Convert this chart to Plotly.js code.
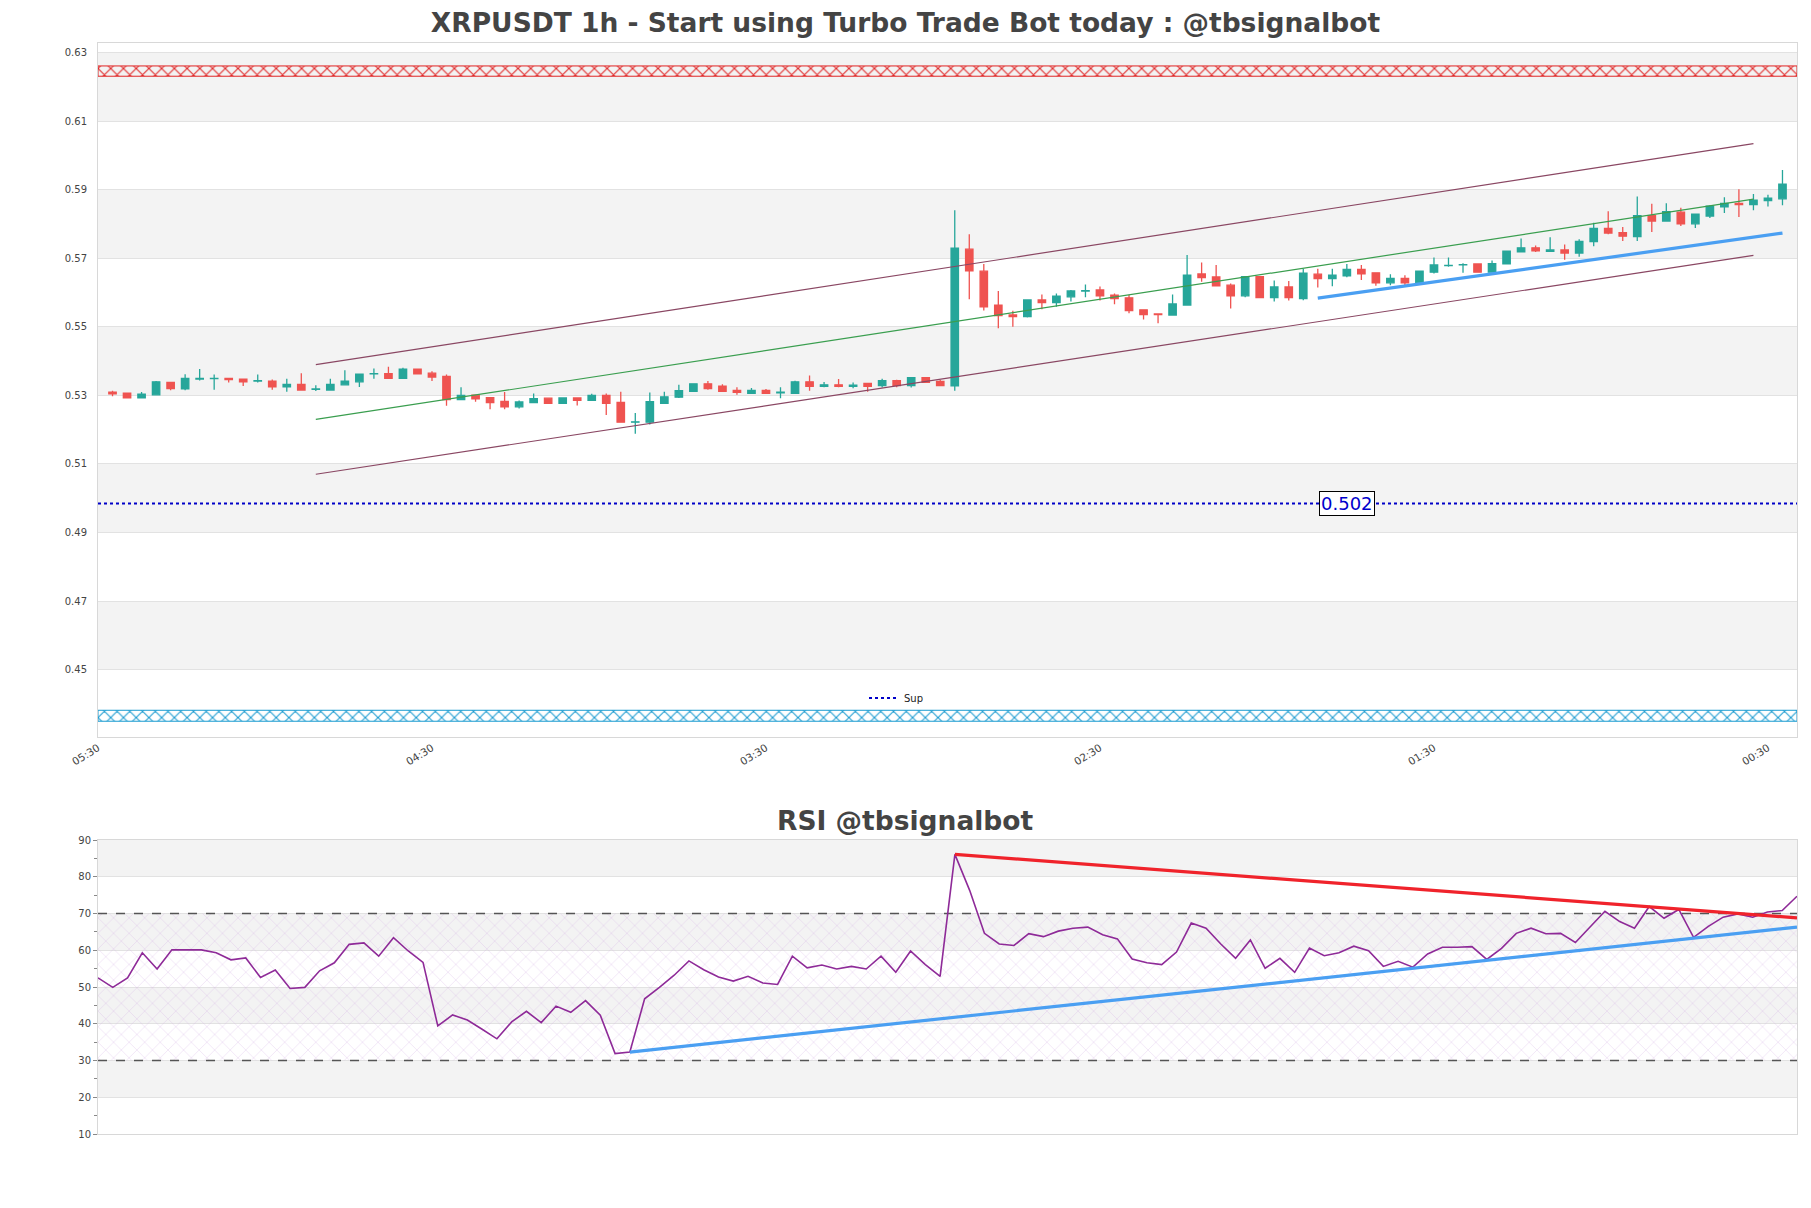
<!DOCTYPE html>
<html>
<head>
<meta charset="utf-8">
<script src="https://cdn.plot.ly/plotly-3.0.1.min.js"></script>
<style>
html,body{margin:0;padding:0;background:#ffffff;}
#chart{width:1811px;height:1208px;}
</style>
</head>
<body>
<div id="chart"></div>
<script>
// ---------------- DATA ----------------
const opens = [
0.5310,0.5307,0.5293,0.5302,0.5338,0.5319,0.5348,0.5349,0.5350,0.5348,
0.5342,0.5342,0.5325,0.5332,0.5318,0.5316,0.5331,0.5340,0.5363,0.5364,
0.5350,0.5377,0.5365,0.5356,0.5288,0.5301,0.5294,0.5283,0.5267,0.5279,
0.5292,0.5277,0.5293,0.5286,0.5300,0.5280,0.5222,0.5222,0.5277,0.5295,
0.5312,0.5334,0.5327,0.5315,0.5306,0.5315,0.5308,0.5306,0.5340,0.5327,
0.5331,0.5327,0.5335,0.5329,0.5343,0.5329,0.5352,0.5341,0.5328,0.5727,
0.5663,0.5564,0.5535,0.5530,0.5579,0.5571,0.5588,0.5605,0.5608,0.5593,
0.5585,0.5550,0.5538,0.5535,0.5564,0.5655,0.5646,0.5622,0.5591,0.5647,
0.5586,0.5617,0.5583,0.5654,0.5641,0.5649,0.5668,0.5658,0.5629,0.5642,
0.5629,0.5660,0.5679,0.5681,0.5684,0.5660,0.5684,0.5719,0.5731,0.5721,
0.5725,0.5716,0.5749,0.5788,0.5775,0.5764,0.5825,0.5809,0.5835,0.5801,
0.5824,0.5851,0.5861,0.5857,0.5869,0.5874];
const highs = [
0.5314,0.5308,0.5310,0.5342,0.5339,0.5362,0.5377,0.5361,0.5352,0.5349,
0.5361,0.5347,0.5349,0.5365,0.5330,0.5349,0.5374,0.5363,0.5379,0.5384,
0.5381,0.5379,0.5371,0.5361,0.5324,0.5302,0.5295,0.5310,0.5285,0.5306,
0.5293,0.5294,0.5294,0.5305,0.5306,0.5311,0.5249,0.5309,0.5311,0.5331,
0.5336,0.5342,0.5333,0.5324,0.5322,0.5319,0.5324,0.5343,0.5358,0.5339,
0.5348,0.5338,0.5336,0.5349,0.5346,0.5354,0.5353,0.5345,0.5841,0.5771,
0.5684,0.5605,0.5547,0.5581,0.5595,0.5598,0.5608,0.5624,0.5618,0.5598,
0.5593,0.5551,0.5539,0.5595,0.5710,0.5688,0.5681,0.5627,0.5647,0.5648,
0.5636,0.5634,0.5670,0.5670,0.5670,0.5684,0.5681,0.5659,0.5654,0.5651,
0.5665,0.5703,0.5703,0.5686,0.5685,0.5694,0.5723,0.5758,0.5738,0.5762,
0.5741,0.5756,0.5804,0.5838,0.5792,0.5881,0.5860,0.5861,0.5848,0.5831,
0.5855,0.5879,0.5902,0.5888,0.5886,0.5958];
const lows = [
0.5298,0.5292,0.5292,0.5301,0.5315,0.5315,0.5344,0.5317,0.5338,0.5328,
0.5338,0.5317,0.5311,0.5315,0.5313,0.5314,0.5330,0.5325,0.5349,0.5348,
0.5349,0.5362,0.5342,0.5270,0.5287,0.5282,0.5260,0.5260,0.5262,0.5278,
0.5275,0.5276,0.5271,0.5285,0.5243,0.5222,0.5188,0.5215,0.5276,0.5293,
0.5310,0.5317,0.5311,0.5302,0.5304,0.5304,0.5292,0.5305,0.5314,0.5324,
0.5324,0.5321,0.5311,0.5323,0.5324,0.5323,0.5337,0.5328,0.5314,0.5581,
0.5548,0.5496,0.5501,0.5528,0.5552,0.5559,0.5574,0.5587,0.5577,0.5566,
0.5540,0.5522,0.5511,0.5534,0.5563,0.5632,0.5618,0.5554,0.5587,0.5586,
0.5574,0.5577,0.5578,0.5615,0.5619,0.5645,0.5637,0.5620,0.5622,0.5622,
0.5628,0.5656,0.5676,0.5658,0.5660,0.5659,0.5683,0.5718,0.5719,0.5720,
0.5696,0.5705,0.5736,0.5771,0.5751,0.5751,0.5777,0.5808,0.5795,0.5789,
0.5818,0.5833,0.5821,0.5841,0.5852,0.5855];
const closes = [
0.5305,0.5293,0.5304,0.5340,0.5320,0.5350,0.5350,0.5350,0.5346,0.5340,
0.5343,0.5325,0.5332,0.5316,0.5319,0.5332,0.5342,0.5362,0.5364,0.5350,
0.5377,0.5363,0.5354,0.5288,0.5300,0.5290,0.5279,0.5267,0.5281,0.5291,
0.5277,0.5293,0.5286,0.5300,0.5277,0.5222,0.5223,0.5282,0.5296,0.5314,
0.5334,0.5320,0.5312,0.5309,0.5315,0.5306,0.5310,0.5340,0.5327,0.5331,
0.5327,0.5330,0.5327,0.5343,0.5329,0.5352,0.5338,0.5329,0.5730,0.5664,
0.5559,0.5533,0.5530,0.5579,0.5571,0.5590,0.5605,0.5606,0.5591,0.5583,
0.5548,0.5536,0.5536,0.5567,0.5651,0.5644,0.5620,0.5591,0.5647,0.5586,
0.5617,0.5586,0.5657,0.5641,0.5651,0.5668,0.5655,0.5629,0.5642,0.5629,
0.5663,0.5681,0.5680,0.5682,0.5660,0.5685,0.5721,0.5731,0.5722,0.5725,
0.5716,0.5750,0.5788,0.5774,0.5765,0.5825,0.5809,0.5837,0.5801,0.5829,
0.5853,0.5861,0.5857,0.5870,0.5876,0.5917];

const timeTickLabels = ['05:30','04:30','03:30','02:30','01:30','00:30'];
const timeTickIndex  = [0, 23, 46, 69, 92, 115];

const channelIndex = [15, 114];
const channelUpper = [0.5390, 0.6035];
const channelMid   = [0.5230, 0.5873];
const channelLower = [0.5070, 0.5709];

const trendIndex   = [84, 116];
const trendSupport = [0.5584, 0.5774];

const resistZone  = [0.6232, 0.6262];
const supportZone = [0.4349, 0.4381];

const supLevel = 0.4985;
const supLabel = '0.502';
const supLabelIndex = 86.0;

const rsiValues = [
52.5,49.9,52.5,59.3,54.9,60.1,60.1,60.1,59.3,57.4,
57.9,52.6,54.6,49.6,49.9,54.4,56.6,61.6,62.0,58.4,
63.4,59.8,56.7,39.4,42.4,41.0,38.5,35.9,40.5,43.4,
40.3,44.8,43.1,46.3,42.3,31.9,32.3,46.8,49.9,53.2,
57.1,54.7,52.7,51.6,52.9,51.1,50.7,58.4,55.2,56.0,
54.9,55.6,54.9,58.4,54.0,59.8,56.1,52.9,86.1,76.3,
64.6,61.7,61.3,64.5,63.7,65.2,66.0,66.3,64.2,63.1,
57.6,56.6,56.1,59.5,67.4,66.0,61.7,57.8,62.8,55.1,
57.8,54.0,60.6,58.5,59.3,61.1,59.9,55.6,57.0,55.4,
59.0,60.8,60.8,61.0,57.5,60.5,64.6,66.0,64.5,64.6,
62.1,66.3,70.6,67.8,66.0,71.9,68.7,71.1,63.5,66.5,
69.0,69.9,69.0,70.4,70.8,74.7];

const rsiResIndex = [59, 116];
const rsiRes      = [86.1, 68.8];
const rsiSupIndex = [37, 116];
const rsiSup      = [32.3, 66.3];
const rsiLevels   = [30, 70];

// ---------------- CHART ----------------
const candleX = opens.map((_, i) => i + 1);
const rsiX = rsiValues.map((_, i) => i + 1);
const xMin = 0, xMax = 117;
const rsiXMin = 1, rsiXMax = 116;

function band(zone, color, xa, ya, x0, x1) {
  return {
    type: 'scatter', mode: 'lines',
    x: [x0, x1, x1, x0, x0],
    y: [zone[0], zone[0], zone[1], zone[1], zone[0]],
    fill: 'toself', fillcolor: 'rgba(0,0,0,0)',
    fillpattern: {shape: 'x', fgcolor: color, bgcolor: 'rgba(255,255,255,0)', size: 9, solidity: 0.22},
    line: {color: color, width: 1},
    xaxis: xa, yaxis: ya, showlegend: false, hoverinfo: 'skip'
  };
}

function levelLine(lv) {
  return {type:'scatter', mode:'lines', x:[rsiXMin, rsiXMax], y:[lv, lv],
          line:{color:'#555555', width:1.3, dash:'dash'}, xaxis:'x2', yaxis:'y2', showlegend:false, hoverinfo:'skip'};
}

const traces = [
  band(resistZone, '#e02525', 'x', 'y', xMin, xMax),
  band(supportZone, '#1a9bd0', 'x', 'y', xMin, xMax),
  {type:'scatter', mode:'lines', x: channelIndex, y: channelUpper, line:{color:'#8a4763', width:1.2}, xaxis:'x', yaxis:'y', showlegend:false, hoverinfo:'skip'},
  {type:'scatter', mode:'lines', x: channelIndex, y: channelMid, line:{color:'#3a9e4f', width:1.2}, xaxis:'x', yaxis:'y', showlegend:false, hoverinfo:'skip'},
  {type:'scatter', mode:'lines', x: channelIndex, y: channelLower, line:{color:'#8a4763', width:1.2}, xaxis:'x', yaxis:'y', showlegend:false, hoverinfo:'skip'},
  {
    type: 'candlestick', x: candleX, open: opens, high: highs, low: lows, close: closes,
    increasing: {line: {color: '#26a69a', width: 1.3}, fillcolor: '#26a69a'},
    decreasing: {line: {color: '#ef5350', width: 1.3}, fillcolor: '#ef5350'},
    xaxis: 'x', yaxis: 'y', showlegend: false, hoverinfo: 'skip'
  },
  {type:'scatter', mode:'lines', name:'Sup', x:[xMin, xMax], y:[supLevel, supLevel], line:{color:'#0000c8', width:2, dash:'dot'}, xaxis:'x', yaxis:'y', showlegend:true, hoverinfo:'skip'},
  {type:'scatter', mode:'lines', x: trendIndex, y: trendSupport, line:{color:'#4a9ff2', width:3.2}, xaxis:'x', yaxis:'y', showlegend:false, hoverinfo:'skip'},

  // RSI panel
  {
    type:'scatter', mode:'lines',
    x:[rsiXMin, rsiXMax, rsiXMax, rsiXMin, rsiXMin],
    y:[rsiLevels[0], rsiLevels[0], rsiLevels[1], rsiLevels[1], rsiLevels[0]],
    fill:'toself', fillcolor:'rgba(0,0,0,0)',
    fillpattern:{shape:'x', fgcolor:'rgba(205,165,225,0.6)', bgcolor:'rgba(255,255,255,0)', size:11, solidity:0.08},
    line:{width:0}, xaxis:'x2', yaxis:'y2', showlegend:false, hoverinfo:'skip'
  },
  levelLine(rsiLevels[0]),
  levelLine(rsiLevels[1]),
  {type:'scatter', mode:'lines', x: rsiX, y: rsiValues, line:{color:'#8e2a98', width:1.6}, xaxis:'x2', yaxis:'y2', showlegend:false, hoverinfo:'skip'},
  {type:'scatter', mode:'lines', x: rsiResIndex, y: rsiRes, line:{color:'#f0232b', width:3.2}, xaxis:'x2', yaxis:'y2', showlegend:false, hoverinfo:'skip'},
  {type:'scatter', mode:'lines', x: rsiSupIndex, y: rsiSup, line:{color:'#4a9ff2', width:3.2}, xaxis:'x2', yaxis:'y2', showlegend:false, hoverinfo:'skip'}
];

// alternating background bands
const shapes = [];
const bandGray = '#f3f3f3';
for (let v = 0.45; v < 0.63; v += 0.04) {
  shapes.push({type:'rect', xref:'x domain', yref:'y', x0:0, x1:1, y0:v, y1:v+0.02, fillcolor:bandGray, line:{width:0}, layer:'below'});
}
for (let v = 20; v < 90; v += 20) {
  shapes.push({type:'rect', xref:'x2 domain', yref:'y2', x0:0, x1:1, y0:v, y1:v+10, fillcolor:bandGray, line:{width:0}, layer:'below'});
}

const W = 1811, H = 1208;
const mL = 98, mR = 14, mT = 43, mB = 74;
const plotH = H - mT - mB;
const topDomain = [(H - mB - 737) / plotH, 1];
const rsiDomain = [0, (H - mB - 840) / plotH];

const layout = {
  width: W, height: H,
  margin: {l: mL, r: mR, t: mT, b: mB},
  paper_bgcolor: '#ffffff', plot_bgcolor: '#ffffff',
  font: {family: 'DejaVu Sans, sans-serif', color: '#444444', size: 10},
  title: {
    text: 'XRPUSDT 1h - Start using Turbo Trade Bot today : @tbsignalbot',
    font: {family: 'DejaVu Sans, sans-serif', size: 26.5, color: '#444444', weight: 'bold'},
    x: 0.5, xref: 'container', xanchor: 'center',
    y: 1 - 23 / H, yref: 'container', yanchor: 'middle'
  },
  boxgap: 0.27,
  showlegend: true,
  legend: {x: (864 - mL) / (W - mL - mR), y: (H - mB - 698) / plotH, xanchor: 'left', yanchor: 'middle',
           bgcolor: 'rgba(0,0,0,0)', font: {size: 10, color: '#222222'}},
  xaxis: {
    domain: [0, 1], anchor: 'y', range: [xMin, xMax],
    tickmode: 'array', tickvals: timeTickIndex, ticktext: timeTickLabels, tickangle: -32,
    tickfont: {size: 10.5, color: '#444444'},
    showgrid: false, zeroline: false, showline: true, mirror: true, linecolor: '#d8d8d8', linewidth: 1,
    ticks: '', rangeslider: {visible: false}
  },
  yaxis: {
    domain: topDomain, anchor: 'x', range: [0.4303, 0.6329],
    tick0: 0.43, dtick: 0.02, tickformat: '.2f',
    tickfont: {size: 10, color: '#444444'},
    gridcolor: '#e2e2e2', gridwidth: 1, zeroline: false,
    showline: true, mirror: true, linecolor: '#d8d8d8', linewidth: 1,
    ticks: 'outside', ticklen: 8, tickcolor: 'rgba(0,0,0,0)'
  },
  xaxis2: {
    domain: [0, 1], anchor: 'y2', range: [rsiXMin, rsiXMax],
    showticklabels: false, showgrid: false, zeroline: false,
    showline: true, mirror: true, linecolor: '#d8d8d8', linewidth: 1, ticks: ''
  },
  yaxis2: {
    domain: rsiDomain, anchor: 'x2', range: [10, 90],
    tick0: 10, dtick: 10,
    tickfont: {size: 10, color: '#444444'},
    gridcolor: '#e2e2e2', gridwidth: 1, zeroline: false,
    showline: true, mirror: true, linecolor: '#d8d8d8', linewidth: 1,
    ticks: 'outside', ticklen: 4, tickcolor: '#888888',
    minor: {tick0: 5, dtick: 5, ticks: 'outside', ticklen: 3, tickcolor: '#888888', showgrid: false}
  },
  shapes: shapes,
  annotations: [
    {
      text: 'RSI @tbsignalbot', xref: 'paper', yref: 'paper',
      x: (W / 2 - mL) / (W - mL - mR), y: (H - mB - 820) / plotH,
      xanchor: 'center', yanchor: 'middle', showarrow: false,
      font: {family: 'DejaVu Sans, sans-serif', size: 26.5, color: '#444444', weight: 'bold'}
    },
    {
      text: supLabel, xref: 'x', yref: 'y', x: supLabelIndex, y: supLevel,
      xanchor: 'center', yanchor: 'middle', showarrow: false,
      font: {family: 'DejaVu Sans, sans-serif', size: 18, color: '#0000cc'},
      bgcolor: '#ffffff', bordercolor: '#000000', borderwidth: 1, borderpad: 1
    }
  ]
};

Plotly.newPlot('chart', traces, layout, {staticPlot: true, displayModeBar: false});
</script>
</body>
</html>
